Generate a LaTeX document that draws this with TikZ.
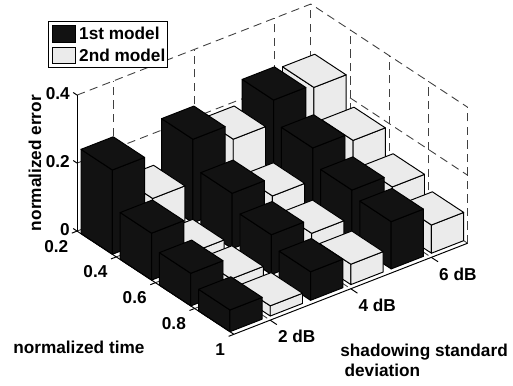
\documentclass[tikz,border=0pt]{standalone}
\usepackage{fontspec}
\setmainfont{Liberation Sans}
\usetikzlibrary{positioning}
\definecolor{darkfill}{gray}{0.07}
\definecolor{lightfill}{gray}{0.92}
\tikzset{
    darkbar/.style={fill=darkfill, draw=black, line width=0.55pt, line join=round}, % 1st model
    lightbar/.style={fill=lightfill, draw=black, line width=0.55pt, line join=round}, % 2nd model
    gridline/.style={draw=black!75, line width=0.5pt, dash pattern=on 4.7pt off 3pt},
    axisline/.style={draw=black, line width=0.55pt},
    ticklabel/.style={font=\fontsize{9.8pt}{11.4pt}\selectfont\bfseries, inner sep=0pt},
    swatch/.style={draw=black, line width=0.55pt, inner sep=0pt, minimum width=0.446cm, minimum height=0.33cm},
}
% one bar: time slot, row, height, style
\newcommand{\drawerrbar}[4]{%
    \filldraw[#4] (#1+0.1,#2,0) -- (#1+0.9,#2,0) -- (#1+0.9,#2,#3) -- (#1+0.1,#2,#3) -- cycle;
    \filldraw[#4] (#1+0.9,#2,0) -- (#1+0.9,#2+0.8,0) -- (#1+0.9,#2+0.8,#3) -- (#1+0.9,#2,#3) -- cycle;
    \filldraw[#4] (#1+0.1,#2,#3) -- (#1+0.9,#2,#3) -- (#1+0.9,#2+0.8,#3) -- (#1+0.1,#2+0.8,#3) -- cycle;
}

\begin{document}
\begin{tikzpicture}[x={(0.784cm,-0.516cm)}, y={(0.806cm,0.314cm)}, z={(0cm,6.8cm)}]
        \path[fill=white, use as bounding box] (-1.5416cm,4.6216cm) rectangle (8.7184cm,-3.0784cm);

        % Grid
        \foreach \zz in {0,0.2,0.4}
            \draw[gridline] (0,0,\zz) -- (0,5.8,\zz) -- (4,5.8,\zz);
        \foreach \vv in {0.9,2.9,4.9,5.8}
            \draw[gridline] (0,\vv,0) -- (0,\vv,0.4);
        \foreach \uu in {1,2,3,4}
            \draw[gridline] (\uu,5.8,0) -- (\uu,5.8,0.4);
        \foreach \uu in {1,2,3}
            \draw[gridline] (\uu,0,0) -- (\uu,5.8,0);
        \foreach \vv in {0.9,2.9,4.9}
            \draw[gridline] (0,\vv,0) -- (4,\vv,0);

        % Bars, back row first
        \foreach \row/\kind/\vals in {
            5/lightbar/{0.260,0.180,0.119,0.083},
            4/darkbar/{0.269,0.204,0.156,0.139},
            3/lightbar/{0.200,0.109,0.075,0.060},
            2/darkbar/{0.246,0.163,0.117,0.084},
            1/lightbar/{0.118,0.035,0.033,0.030},
            0/darkbar/{0.248,0.138,0.096,0.064}}{
            \foreach \h [count=\c from 0] in \vals {\drawerrbar{\c}{\row}{\h}{\kind}}
        }

        % Axes
        \draw[axisline] (0,0,0) -- (0,0,0.4);
        \draw[axisline] (0,0,0) -- (4,0,0) -- (4,5.8,0);
        \foreach \zz in {0,0.2,0.4}
            \draw[axisline] (0,0,\zz) -- (-0.1,0,\zz);
        \foreach \uu in {0,...,4}
            \draw[axisline] (\uu,0,0) -- (\uu,-0.13,0);
        \foreach \vv in {0.9,2.9,4.9}
            \draw[axisline] (4,\vv,0) -- (4.17,\vv,0);

        % Labels
        \foreach \zz/\txt [count=\k] in {0/0,0.2/0.2,0.4/0.4}
            \node[ticklabel, anchor=east, xshift=-0.14cm, yshift=0.04cm] (zlab\k) at (0,0,\zz) {\txt};
        \foreach \uu/\txt in {0/0.2,1/0.4,2/0.6,3/0.8,4/1}
            \node[ticklabel, anchor=east, xshift=-0.17cm, yshift=-0.3cm] (tlab\uu) at (\uu,0,0) {\txt};
        \foreach \vv/\txt [count=\k] in {0.9/2,2.9/4,4.9/6}
            \node[ticklabel, anchor=west, xshift=0.15cm, yshift=-0.33cm] (dblab\k) at (4,\vv,0) {\txt{} dB};

        \node[ticklabel, xshift=-0.84cm, rotate=90] (zname) at (0,0,0.2) {normalized error};
        \node[ticklabel, anchor=base west, xshift=-1.282cm, yshift=-2.458cm] (tname) at (0,0,0) {normalized time};
        \node[ticklabel, anchor=base west, xshift=2.122cm, yshift=-0.448cm] (dbnameA) at (4,0,0) {shadowing standard};
        \node[ticklabel, anchor=base west, xshift=2.208cm, yshift=-0.848cm] (dbnameB) at (4,0,0) {deviation};

        % Legend
        \node[draw=black, fill=white, line width=0.55pt, inner sep=0pt, minimum width=2.38cm, minimum height=0.932cm, anchor=north west] (legend) at (-0.5756cm,4.2076cm) {};
        \node[swatch, fill=darkfill, anchor=north west] (keyA) at ([xshift=0.08cm, yshift=-0.086cm]legend.north west) {};
        \node[swatch, fill=lightfill, anchor=north west] (keyB) at ([xshift=0.08cm, yshift=-0.52cm]legend.north west) {};
        \node[ticklabel, right=0.066cm of keyA] (keyAtext) {1st model};
        \node[ticklabel, right=0.066cm of keyB] (keyBtext) {2nd model};
\end{tikzpicture}
\end{document}
